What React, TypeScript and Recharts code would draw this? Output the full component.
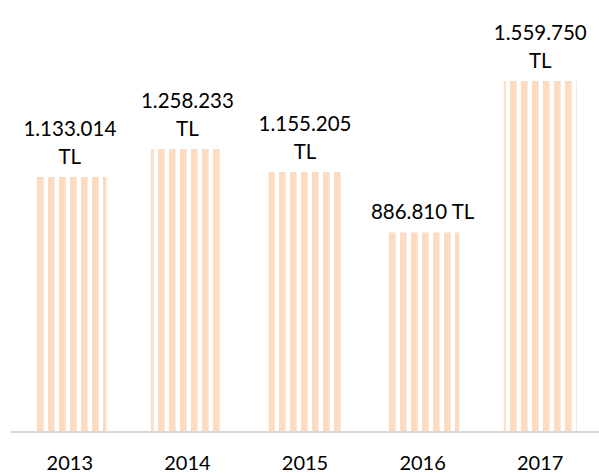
import { BarChart, Bar, XAxis, YAxis, LabelList } from 'recharts';

const years = ['2013', '2014', '2015', '2016', '2017'];
const amounts = [1133014, 1258233, 1155205, 886810, 1559750];

const data = years.map((year, i) => ({ year, amount: amounts[i] }));

const FONT = 'Lato, "Open Sans", sans-serif';

const formatTL = (v: number) => v.toLocaleString('de-DE');

// Excel wraps the long labels onto two lines
const renderLabel = (props: any) => {
    const { x, y, width, value } = props;
    const num = formatTL(Number(value));
    const lines = num.length > 7 ? [num, 'TL'] : [num + ' TL'];
    const cx = x + width / 2;
    const lineH = 28;
    const lastBase = y - 13;
    return (
        <text x={cx} textAnchor="middle" fill="#000" fontSize={20.5} fontFamily={FONT}>
            {lines.map((l, i) => (
                <tspan key={i} x={cx} y={lastBase - (lines.length - 1 - i) * lineH}>{l}</tspan>
            ))}
        </text>
    );
};

function App() {
    return (
        <div style={{ position: 'absolute', left: 0, top: 0 }}>
            <BarChart
                width={599}
                height={476}
                data={data}
                margin={{ top: 27, right: 0, left: 11, bottom: 0 }}
                barCategoryGap="19%"
            >
                <defs>
                    <pattern id="stripes" patternUnits="userSpaceOnUse" x={4} y={0} width={11} height={10}>
                        <rect x={0} y={0} width={6} height={10} fill="#FDDBC1" />
                        <rect x={6} y={0} width={1} height={10} fill="#FEEADC" />
                    </pattern>
                </defs>
                <XAxis
                    dataKey="year"
                    axisLine={{ stroke: '#D9D9D9', strokeWidth: 2 }}
                    tickLine={false}
                    height={44}
                    tick={{ fill: '#000', fontSize: 20, fontFamily: FONT, dy: 16 }}
                />
                <YAxis hide domain={[0, 1800000]} />
                <Bar dataKey="amount" fill="url(#stripes)" isAnimationActive={false}>
                    <LabelList dataKey="amount" content={renderLabel} />
                </Bar>
            </BarChart>
        </div>
    );
}

export default App;
